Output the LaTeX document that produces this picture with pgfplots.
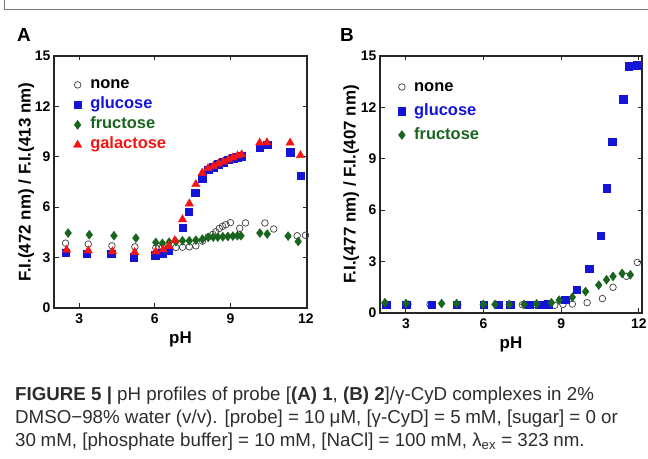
\documentclass[border=0pt]{standalone}
\usepackage{fontspec}
\setmainfont{Liberation Sans}
\usepackage{pgfplots}
\pgfplotsset{compat=1.18}
\definecolor{mblue}{RGB}{20,20,215}
\definecolor{mgreen}{RGB}{25,100,30}
\definecolor{mred}{RGB}{245,20,20}
\definecolor{mgray}{RGB}{70,70,70}
\definecolor{capgray}{RGB}{45,45,45}
\definecolor{framegray}{RGB}{120,120,120}

\pgfplotsset{
  fig/.style={
    scale only axis,
    anchor=south west,
    xmin=2,
    ymin=0, ymax=15,
    xtick={3,6,9,12}, ytick={0,3,6,9,12,15},
    tick align=inside,
    major tick length=4.5bp,
    axis line style={line width=1.1bp, black!85},
    every tick/.style={black!85, line width=0.9bp},
    tick label style={font=\fontsize{14}{14}\selectfont\bfseries},
    xticklabel style={yshift=-2bp},
    /pgf/number format/assume math mode=true,
    label style={font=\fontsize{17}{17}\selectfont\bfseries},
    ylabel style={at={(axis description cs:-0.11,0.5)}, anchor=center},
    xlabel style={at={(axis description cs:0.5,0)}, anchor=center, yshift=-31bp},
    clip=false,
    legend cell align=left,
    legend style={draw=none, fill=none, inner sep=0pt, outer sep=0pt,
      column sep=6bp,
      font=\fontsize{16.5}{16.5}\selectfont\bfseries,
      nodes={inner sep=2.5bp, text height=11.5bp, text depth=3.5bp}},
  },
  pnone/.style={only marks, mark=o, mark size=3.3bp, mgray, mark options={line width=0.75bp}},
  pglu/.style={only marks, mark=square*, mark size=3.8bp, mblue},
  pfru/.style={only marks, mark=diamond*, mark size=4.5bp, mgreen},
  pgal/.style={only marks, mark=triangle*, mark size=4.8bp, mred},
}

\begin{document}
\begin{tikzpicture}[x=1bp,y=1bp]
\path[use as bounding box] (0,0) rectangle (648,459);
\draw[framegray, line width=1bp] (4,459) -- (4,449) -- (648,449);

\node[anchor=base west, inner sep=0, font=\fontsize{19}{19}\selectfont\bfseries] at (17,417) {A};
\node[anchor=base west, inner sep=0, font=\fontsize{19}{19}\selectfont\bfseries] at (340,417) {B};

% Panel A
\begin{axis}[fig, at={(54bp,151bp)}, width=253bp, height=252bp, xmax=12.04,
  xlabel={pH}, ylabel={F.I.(472 nm) / F.I.(413 nm)},
  legend style={at={(axis description cs:0.077,0.925)}, anchor=north west}]
\addplot[pnone] coordinates {
(2.46,3.86)(3.36,3.80)(4.30,3.70)(5.21,3.64)(6.04,3.58)(6.31,3.64)(6.57,3.62)
(6.84,3.60)(7.10,3.62)(7.37,3.64)(7.63,3.70)(7.89,3.98)(8.12,4.24)(8.30,4.38)
(8.42,4.54)(8.56,4.74)(8.69,4.86)(8.82,4.96)(9.00,5.08)(9.37,4.74)(9.60,5.06)
(10.37,5.06)(10.72,4.70)(11.65,4.30)(11.98,4.33)};
\addlegendentry{\textcolor{black}{none}}
\addplot[pglu] coordinates {
(2.46,3.28)(3.30,3.22)(4.28,3.22)(5.17,3.04)(6.02,3.16)(6.30,3.26)(6.53,3.42)
(7.10,4.78)(7.35,5.73)(7.61,6.86)(7.88,7.72)(8.11,8.24)(8.31,8.39)(8.51,8.55)
(8.71,8.69)(8.91,8.83)(9.10,8.92)(9.26,8.99)(9.45,9.03)(10.16,9.53)(10.45,9.73)
(11.38,9.29)(11.79,7.88)};
\addlegendentry{\textcolor{mblue}{glucose}}
\addplot[pfru] coordinates {
(2.56,4.46)(3.40,4.36)(4.38,4.30)(5.25,4.16)(6.04,3.90)(6.30,3.85)(6.57,3.92)
(6.84,3.95)(7.10,4.00)(7.37,4.00)(7.63,4.04)(7.89,4.10)(8.12,4.20)(8.32,4.22)
(8.50,4.22)(8.70,4.24)(8.90,4.26)(9.10,4.28)(9.28,4.30)(9.42,4.30)(10.17,4.46)
(10.46,4.40)(11.29,4.28)(11.69,3.96)};
\addlegendentry{\textcolor{mgreen}{fructose}}
\addplot[pgal] coordinates {
(2.50,3.46)(3.36,3.42)(4.32,3.36)(5.20,3.32)(6.04,3.36)(6.33,3.48)(6.55,3.68)
(6.79,4.02)(7.10,5.27)(7.37,6.21)(7.63,7.36)(7.88,8.04)(8.11,8.31)(8.33,8.45)
(8.52,8.59)(8.72,8.71)(8.92,8.83)(9.10,8.95)(9.28,9.07)(9.45,9.13)(10.16,9.83)
(10.45,9.85)(11.37,9.83)(11.78,9.09)};
\addlegendentry{\textcolor{mred}{galactose}}
\end{axis}

% Panel B
\begin{axis}[fig, at={(380bp,146bp)}, width=262bp, height=257bp, xmax=12.12,
  xlabel={pH}, ylabel={F.I.(477 nm) / F.I.(407 nm)},
  legend style={at={(axis description cs:0.069,0.926)}, anchor=north west,
    nodes={inner sep=2.5bp, text height=13.5bp, text depth=5.5bp}}]
\addplot[pnone] coordinates {
(2.20,0.55)(3.08,0.52)(3.93,0.50)(5.00,0.50)(6.00,0.50)(6.50,0.50)(7.00,0.48)
(7.50,0.48)(8.00,0.50)(8.75,0.45)(9.07,0.50)(9.43,0.52)(10.00,0.60)(10.59,0.84)
(11.00,1.50)(11.52,2.14)(11.94,2.95)};
\addlegendentry{\textcolor{black}{none}}
\addplot[pglu] coordinates {
(2.23,0.49)(3.00,0.49)(3.99,0.49)(4.96,0.49)(6.01,0.49)(6.56,0.49)(7.04,0.49)
(7.76,0.49)(8.15,0.49)(8.50,0.52)(9.16,0.78)(9.59,1.36)(10.07,2.58)(10.52,4.51)
(10.75,7.29)(10.97,10.00)(11.39,12.47)(11.61,14.42)(11.93,14.45)};
\addlegendentry{\textcolor{mblue}{glucose}}
\addplot[pfru] coordinates {
(2.19,0.60)(3.00,0.55)(4.38,0.55)(4.96,0.55)(5.99,0.50)(6.44,0.50)(6.99,0.50)
(7.56,0.50)(8.05,0.53)(8.62,0.60)(8.92,0.75)(9.43,0.92)(9.94,1.25)(10.45,1.63)
(10.75,1.94)(11.00,2.14)(11.35,2.31)(11.67,2.23)};
\addlegendentry{\textcolor{mgreen}{fructose}}
\end{axis}

% Caption
\begin{scope}[every node/.style={anchor=base west, inner sep=0, text=capgray, font=\fontsize{18.8}{18.8}\selectfont}]
\node at (15,58) {\textbf{FIGURE 5 |} pH profiles of probe [\textbf{(A) 1}, \textbf{(B) 2}]/γ-CyD complexes in 2\%};
\node at (15,35) {DMSO−98\% water (v/v). [probe] = 10\hspace{0.25em}μM, [γ-CyD] = 5\hspace{0.25em}mM, [sugar] = 0 or};
\node at (15,12) {30\hspace{0.25em}mM, [phosphate buffer] = 10\hspace{0.25em}mM, [NaCl] = 100\hspace{0.25em}mM, λ\textsubscript{ex} = 323\hspace{0.25em}nm.};
\end{scope}
\end{tikzpicture}
\end{document}
